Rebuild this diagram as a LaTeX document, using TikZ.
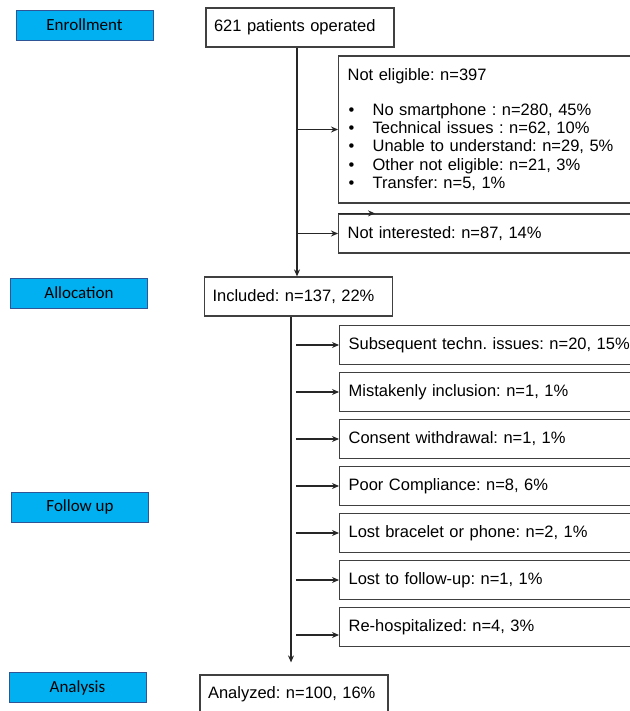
\documentclass[tikz,border=0pt]{standalone}
\usepackage{fontspec}
\setmainfont{Liberation Sans}[WordSpace=0.75]
\newfontfamily\labelfont{Carlito}
\usepackage{tikz}
\usetikzlibrary{arrows.meta}
\usepackage{xcolor}
\frenchspacing
\definecolor{stagefill}{HTML}{00B0F0}
\definecolor{stageline}{HTML}{2F5597}
\definecolor{boxline}{HTML}{404040}
\newcommand{\bul}{\makebox[25pt][l]{\hspace{1pt}\textbullet}}
\tikzstyle{stage} = [rectangle, draw=stageline, fill=stagefill, line width=0.8pt, minimum width=137pt, minimum height=30pt, inner sep=0pt, font=\labelfont\fontsize{17}{19}\selectfont]
\tikzstyle{flowbox} = [rectangle, draw=boxline, line width=1.2pt, text width=172pt, align=left, inner xsep=8pt, minimum height=39pt, font=\fontsize{16.5}{18.3}\selectfont]
\tikzstyle{dropbox} = [flowbox, text width=303pt, inner xsep=9pt, anchor=west]

\begin{document}
\begin{tikzpicture}[->,>={Stealth[length=7pt,width=6pt]},x=1pt,y=-1pt,node distance=47pt,line width=1.1pt,draw=black!85]
  \useasboundingbox (0,0) rectangle (629,711);
  \node[stage] (Enrollment) at (84.5,25) {Enrollment};
  \node[stage] (Allocation) at (79,293) {Allocation};
  \node[stage] (FollowUp) at (80,507) {Follow up};
  \node[stage] (Analysis) at (77.5,687.5) {Analysis};

  \node[flowbox] (Operated) at (300,27.5) {621 patients operated};
  \node[dropbox, minimum height=147pt] (NotEligible) at (338,129.5) {Not eligible: n=397\\[16.7pt]
    \bul No smartphone : n=280, 45\%\\
    \bul Technical issues : n=62, 10\%\\
    \bul Unable to understand: n=29, 5\%\\
    \bul Other not eligible: n=21, 3\%\\
    \bul Transfer: n=5, 1\%};
  \node[dropbox] (NotInterested) at (338,233.5) {Not interested: n=87, 14\%};
  \node[flowbox] (Included) at (298.5,296.5) {Included: n=137, 22\%};

  \node[dropbox] (TechIssues) at (339,345) {Subsequent techn. issues: n=20, 15\%};
  \node[dropbox] (Mistaken) [below of=TechIssues] {Mistakenly inclusion: n=1, 1\%};
  \node[dropbox] (Consent) [below of=Mistaken] {Consent withdrawal: n=1, 1\%};
  \node[dropbox] (Compliance) [below of=Consent] {Poor Compliance: n=8, 6\%};
  \node[dropbox] (LostDevice) [below of=Compliance] {Lost bracelet or phone: n=2, 1\%};
  \node[dropbox] (LostFollowUp) [below of=LostDevice] {Lost to follow-up: n=1, 1\%};
  \node[dropbox] (Rehosp) [below of=LostFollowUp] {Re-hospitalized: n=4, 3\%};
  \node[flowbox] (Analyzed) at (294,694.5) {Analyzed: n=100, 16\%};

  \coordinate (TrunkA) at (297,0);
  \coordinate (TrunkB) at (296,0);
  \coordinate (RehospIn) at ([yshift=-8pt]Rehosp.west);

  \path ([xshift=-3pt]Operated.south) edge ([xshift=-1.5pt]Included.north);
  \path (TrunkA |- NotEligible.west) edge (NotEligible.west);
  \path (TrunkA |- NotInterested.west) edge (NotInterested.west);
  \path (NotInterested.north west) edge ([xshift=37pt]NotInterested.north west);
  \path ([xshift=-7.5pt]Included.south) edge ([xshift=-3pt,yshift=12pt]Analyzed.north);
  \foreach \b in {TechIssues,Mistaken,Consent,Compliance,LostDevice,LostFollowUp}
    \path (TrunkB |- \b.west) edge (\b.west);
  \path (TrunkB |- RehospIn) edge (RehospIn);
\end{tikzpicture}
\end{document}
